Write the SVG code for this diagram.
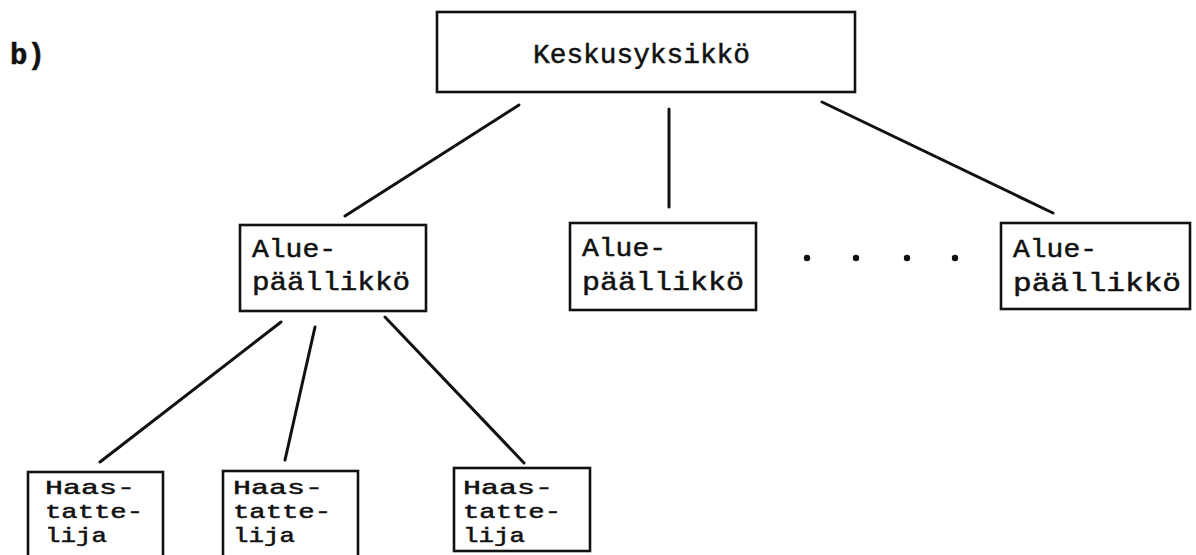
<svg xmlns="http://www.w3.org/2000/svg" width="1196" height="555" viewBox="0 0 1196 555">
<style>
.box{fill:#fff;stroke:#111;stroke-width:2.6}
.t{font-family:"Liberation Mono","DejaVu Sans Mono",monospace;fill:#111;stroke:#111;stroke-width:0.5}
.big{font-size:28px}
.mid{font-size:26px}
.sm{font-size:21px}
.conn line{stroke:#111;stroke-width:3;stroke-linecap:round}
</style>
<rect width="1196" height="555" fill="#fff"/>
<text id="label-b" class="t" x="10" y="64" font-size="29" font-weight="bold">b)</text>
<g id="connectors" class="conn">
<line x1="519" y1="105" x2="345" y2="216"/>
<line x1="669" y1="109" x2="669" y2="207"/>
<line x1="822" y1="102" x2="1053" y2="213"/>
<line x1="281" y1="322" x2="100" y2="462"/>
<line x1="315" y1="327" x2="285" y2="460"/>
<line x1="385" y1="317" x2="524" y2="463"/>
</g>
<g id="keskusyksikko">
<rect class="box" x="437" y="12" width="418" height="80"/>
<text class="t big" x="533" y="63" textLength="217" lengthAdjust="spacingAndGlyphs">Keskusyksikkö</text>
</g>
<g id="aluepaallikko1">
<rect class="box" x="240" y="225" width="186" height="86"/>
<text class="t mid" x="252" y="257" textLength="84" lengthAdjust="spacingAndGlyphs">Alue-</text>
<text class="t mid" x="252" y="290" textLength="158" lengthAdjust="spacingAndGlyphs">päällikkö</text>
</g>
<g id="aluepaallikko2">
<rect class="box" x="570" y="223" width="186" height="87"/>
<text class="t mid" x="582" y="256" textLength="84" lengthAdjust="spacingAndGlyphs">Alue-</text>
<text class="t mid" x="582" y="290" textLength="162" lengthAdjust="spacingAndGlyphs">päällikkö</text>
</g>
<g id="ellipsis">
<circle cx="807" cy="258" r="3.2" fill="#111"/>
<circle cx="856" cy="258" r="3.2" fill="#111"/>
<circle cx="907" cy="258" r="3.2" fill="#111"/>
<circle cx="955" cy="258" r="3.2" fill="#111"/>
</g>
<g id="aluepaallikko3">
<rect class="box" x="1001" y="223" width="189" height="86"/>
<text class="t mid" x="1013" y="257" textLength="84" lengthAdjust="spacingAndGlyphs">Alue-</text>
<text class="t mid" x="1013" y="291" textLength="168" lengthAdjust="spacingAndGlyphs">päällikkö</text>
</g>
<g id="haastattelija1">
<rect class="box" x="28" y="472" width="135" height="100"/>
<text class="t sm" x="45" y="494" textLength="90" lengthAdjust="spacingAndGlyphs">Haas-</text>
<text class="t sm" x="45" y="518" textLength="98" lengthAdjust="spacingAndGlyphs">tatte-</text>
<text class="t sm" x="45" y="542" textLength="62" lengthAdjust="spacingAndGlyphs">lija</text>
</g>
<g id="haastattelija2">
<rect class="box" x="223" y="471" width="135" height="100"/>
<text class="t sm" x="233" y="494" textLength="90" lengthAdjust="spacingAndGlyphs">Haas-</text>
<text class="t sm" x="233" y="518" textLength="98" lengthAdjust="spacingAndGlyphs">tatte-</text>
<text class="t sm" x="233" y="542" textLength="62" lengthAdjust="spacingAndGlyphs">lija</text>
</g>
<g id="haastattelija3">
<rect class="box" x="454" y="468" width="136" height="83"/>
<text class="t sm" x="463" y="494" textLength="90" lengthAdjust="spacingAndGlyphs">Haas-</text>
<text class="t sm" x="463" y="518" textLength="98" lengthAdjust="spacingAndGlyphs">tatte-</text>
<text class="t sm" x="463" y="542" textLength="62" lengthAdjust="spacingAndGlyphs">lija</text>
</g>
</svg>
